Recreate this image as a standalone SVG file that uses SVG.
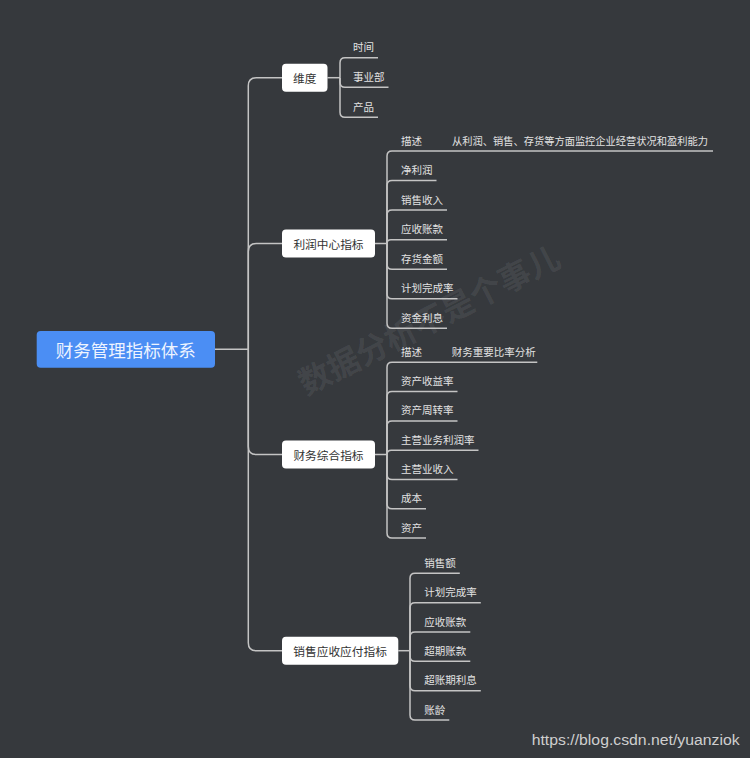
<svg xmlns="http://www.w3.org/2000/svg" width="750" height="758" viewBox="0 0 750 758">
<style>
.ln{fill:none;stroke:#c4c4c4;stroke-width:1.5}
.node rect{fill:#ffffff}
.nt{font-family:"Noto Sans CJK SC",sans-serif;font-size:11.7px;fill:#333333;text-anchor:middle;dominant-baseline:central}
.ct{font-family:"Noto Sans CJK SC",sans-serif;font-size:10.5px;fill:#e2e2e2;dominant-baseline:central}
</style>
<rect width="750" height="758" fill="#36393d"/>
<text x="428" y="318" transform="rotate(-27 428 318)" font-family="Noto Sans CJK SC,sans-serif" font-size="32" font-weight="bold" fill="#ffffff" fill-opacity="0.08" text-anchor="middle" dominant-baseline="central">数据分析不是个事儿</text>
<g id="connectors">
<path class="ln" d="M215,349.3 H248.3"/>
<path class="ln" d="M248.3,349.3 V85.7 Q248.3,77.7 256.3,77.7 H282"/>
<path class="ln" d="M248.3,349.3 V251.5 Q248.3,243.5 256.3,243.5 H282"/>
<path class="ln" d="M248.3,349.3 V446.5 Q248.3,454.5 256.3,454.5 H282"/>
<path class="ln" d="M248.3,349.3 V642.7 Q248.3,650.7 256.3,650.7 H282"/>
<path class="ln" d="M327.5,77.7 H340"/>
<path class="ln" d="M340,77.7 V62.7 Q340,57.7 345,57.7 H378"/>
<path class="ln" d="M340,77.7 V82.3 Q340,87.3 345,87.3 H388.5"/>
<path class="ln" d="M340,77.7 V112.3 Q340,117.3 345,117.3 H378"/>
<path class="ln" d="M375,243.5 H387"/>
<path class="ln" d="M387,243.5 V156 Q387,151 392,151 H713"/>
<path class="ln" d="M387,243.5 V185.55 Q387,180.55 392,180.55 H436.5"/>
<path class="ln" d="M387,243.5 V215.1 Q387,210.1 392,210.1 H447"/>
<path class="ln" d="M387,243.5 Q387,239.65 390.85,239.65 H447"/>
<path class="ln" d="M387,243.5 V264.2 Q387,269.2 392,269.2 H447"/>
<path class="ln" d="M387,243.5 V293.75 Q387,298.75 392,298.75 H457.5"/>
<path class="ln" d="M387,243.5 V323.3 Q387,328.3 392,328.3 H447"/>
<path class="ln" d="M375,454.5 H387"/>
<path class="ln" d="M387,454.5 V367.3 Q387,362.3 392,362.3 H537.3"/>
<path class="ln" d="M387,454.5 V396.6 Q387,391.6 392,391.6 H457.5"/>
<path class="ln" d="M387,454.5 V425.9 Q387,420.9 392,420.9 H457.5"/>
<path class="ln" d="M387,454.5 Q387,450.2 391.3,450.2 H478.5"/>
<path class="ln" d="M387,454.5 V474.5 Q387,479.5 392,479.5 H457.5"/>
<path class="ln" d="M387,454.5 V503.8 Q387,508.8 392,508.8 H426"/>
<path class="ln" d="M387,454.5 V533.1 Q387,538.1 392,538.1 H426"/>
<path class="ln" d="M398.3,650.7 H410"/>
<path class="ln" d="M410,650.7 V578.3 Q410,573.3 415,573.3 H459.8"/>
<path class="ln" d="M410,650.7 V607.65 Q410,602.65 415,602.65 H480.8"/>
<path class="ln" d="M410,650.7 V637 Q410,632 415,632 H470.3"/>
<path class="ln" d="M410,650.7 V656.35 Q410,661.35 415,661.35 H470.3"/>
<path class="ln" d="M410,650.7 V685.7 Q410,690.7 415,690.7 H480.8"/>
<path class="ln" d="M410,650.7 V715.05 Q410,720.05 415,720.05 H449.3"/>
</g>
<g id="root">
<rect x="36.7" y="331" width="178.3" height="36.7" rx="4" fill="#4b8ef4"/>
<text x="125.8" y="349.5" font-family="Noto Sans CJK SC,sans-serif" font-size="17.5" fill="#eef4ff" text-anchor="middle" dominant-baseline="central">财务管理指标体系</text>
</g>
<g id="weidu" class="node">
<rect x="282" y="63.7" width="45.5" height="28" rx="4"/>
<text class="nt" x="304.7" y="77.7">维度</text>
<text class="ct" x="353" y="46.7">时间</text>
<text class="ct" x="353" y="76.3">事业部</text>
<text class="ct" x="353" y="106.3">产品</text>
</g>
<g id="lirun" class="node">
<rect x="282" y="229.5" width="93" height="28" rx="4"/>
<text class="nt" x="328.5" y="243.5">利润中心指标</text>
<text class="ct" x="401" y="140">描述</text>
<text class="ct" x="452" y="140" textLength="256" lengthAdjust="spacingAndGlyphs">从利润、销售、存货等方面监控企业经营状况和盈利能力</text>
<text class="ct" x="401" y="169.55">净利润</text>
<text class="ct" x="401" y="199.1">销售收入</text>
<text class="ct" x="401" y="228.65">应收账款</text>
<text class="ct" x="401" y="258.2">存货金额</text>
<text class="ct" x="401" y="287.75">计划完成率</text>
<text class="ct" x="401" y="317.3">资金利息</text>
</g>
<g id="caiwu" class="node">
<rect x="282" y="440.5" width="93" height="28" rx="4"/>
<text class="nt" x="328.5" y="454.5">财务综合指标</text>
<text class="ct" x="401" y="351.3">描述</text>
<text class="ct" x="451.7" y="351.3">财务重要比率分析</text>
<text class="ct" x="401" y="380.6">资产收益率</text>
<text class="ct" x="401" y="409.9">资产周转率</text>
<text class="ct" x="401" y="439.2">主营业务利润率</text>
<text class="ct" x="401" y="468.5">主营业收入</text>
<text class="ct" x="401" y="497.8">成本</text>
<text class="ct" x="401" y="527.1">资产</text>
</g>
<g id="xiaoshou" class="node">
<rect x="282" y="636.7" width="116.3" height="28" rx="4"/>
<text class="nt" x="340.1" y="650.7">销售应收应付指标</text>
<text class="ct" x="424.3" y="562.3">销售额</text>
<text class="ct" x="424.3" y="591.65">计划完成率</text>
<text class="ct" x="424.3" y="621">应收账款</text>
<text class="ct" x="424.3" y="650.35">超期账款</text>
<text class="ct" x="424.3" y="679.7">超账期利息</text>
<text class="ct" x="424.3" y="709.05">账龄</text>
</g>
<text x="531.7" y="744.5" font-family="Liberation Sans,Arial,sans-serif" font-size="15.5" fill="#cfcfcf" textLength="208" lengthAdjust="spacingAndGlyphs">https://blog.csdn.net/yuanziok</text>
</svg>
